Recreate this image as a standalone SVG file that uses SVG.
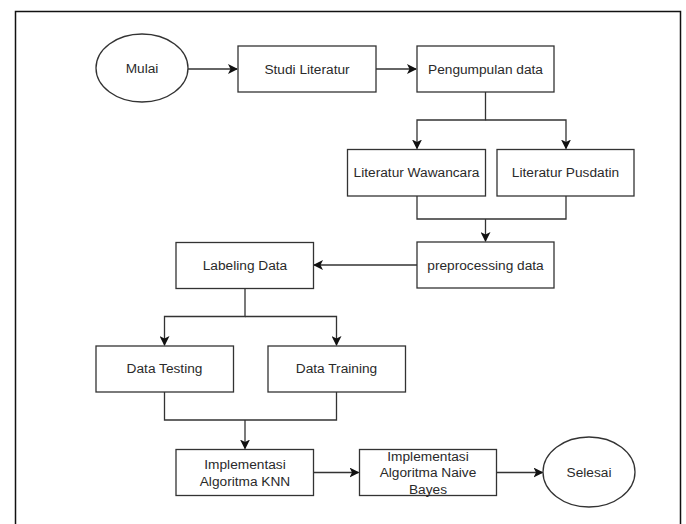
<svg xmlns="http://www.w3.org/2000/svg" width="686" height="524" viewBox="0 0 686 524">
<defs>
<style>
.n{fill:#fff;stroke:#333;stroke-width:1.3}
.c{fill:none;stroke:#333;stroke-width:1.3}
text{font-family:"Liberation Sans",Arial,sans-serif;font-size:13.7px;fill:#2a2a2a;text-anchor:middle}
</style>
<marker id="a" viewBox="0 0 10 10" refX="9" refY="5" markerWidth="10" markerHeight="10" markerUnits="userSpaceOnUse" orient="auto">
<path d="M0,0 L10,5 L0,10 L2.5,5 Z" fill="#111"/>
</marker>
</defs>
<rect width="686" height="524" fill="#fff"/>
<path d="M15.5,530 V11.5 H680.5 V530" fill="none" stroke="#111" stroke-width="1.5"/>
<g id="connectors">
<path class="c" d="M188,69 H237" marker-end="url(#a)"/>
<path class="c" d="M376,69 H416" marker-end="url(#a)"/>
<path class="c" d="M485.5,92 V120 H417 V148.5"  marker-end="url(#a)"/>
<path class="c" d="M485.5,120 H566 V148.5" marker-end="url(#a)"/>
<path class="c" d="M417,196 V219 H566 V196"/>
<path class="c" d="M485.5,219 V241" marker-end="url(#a)"/>
<path class="c" d="M417,265 H314" marker-end="url(#a)"/>
<path class="c" d="M245,288 V316.5 H164.5 V345" marker-end="url(#a)"/>
<path class="c" d="M245,316.5 H336.5 V345" marker-end="url(#a)"/>
<path class="c" d="M164.5,392 V420 H336.5 V392"/>
<path class="c" d="M245,420 V448.5" marker-end="url(#a)"/>
<path class="c" d="M313,472.5 H358.5" marker-end="url(#a)"/>
<path class="c" d="M496.5,472.5 H542.5" marker-end="url(#a)"/>
</g>
<g id="mulai"><ellipse class="n" cx="142" cy="68" rx="46" ry="34"/><text x="142" y="72.5">Mulai</text></g>
<g id="studi"><rect class="n" x="238" y="46" width="138" height="46"/><text x="307" y="73.5">Studi Literatur</text></g>
<g id="pengumpulan"><rect class="n" x="417" y="46" width="137" height="46"/><text x="485.5" y="73.5">Pengumpulan data</text></g>
<g id="wawancara"><rect class="n" x="347.5" y="149.5" width="138" height="46.5"/><text x="416.5" y="177">Literatur Wawancara</text></g>
<g id="pusdatin"><rect class="n" x="497" y="149.5" width="137" height="46.5"/><text x="565.5" y="177">Literatur Pusdatin</text></g>
<g id="preprocessing"><rect class="n" x="417" y="242" width="137" height="46"/><text x="485.5" y="269.5">preprocessing data</text></g>
<g id="labeling"><rect class="n" x="176" y="242.5" width="137.5" height="46"/><text x="245" y="269.5">Labeling Data</text></g>
<g id="testing"><rect class="n" x="96" y="346" width="137.5" height="46"/><text x="164.5" y="373">Data Testing</text></g>
<g id="training"><rect class="n" x="268" y="346" width="137.5" height="46"/><text x="336.5" y="373">Data Training</text></g>
<g id="knn"><rect class="n" x="176" y="449.5" width="137.5" height="46"/><text x="245" y="468.5">Implementasi</text><text x="245" y="485.5">Algoritma KNN</text></g>
<g id="naive"><rect class="n" x="359.5" y="449.5" width="137" height="46"/><text x="428" y="460.5">Implementasi</text><text x="428" y="477">Algoritma Naive</text><text x="428" y="493.5">Bayes</text></g>
<g id="selesai"><ellipse class="n" cx="589" cy="472" rx="46" ry="35"/><text x="589" y="476.5">Selesai</text></g>
</svg>
